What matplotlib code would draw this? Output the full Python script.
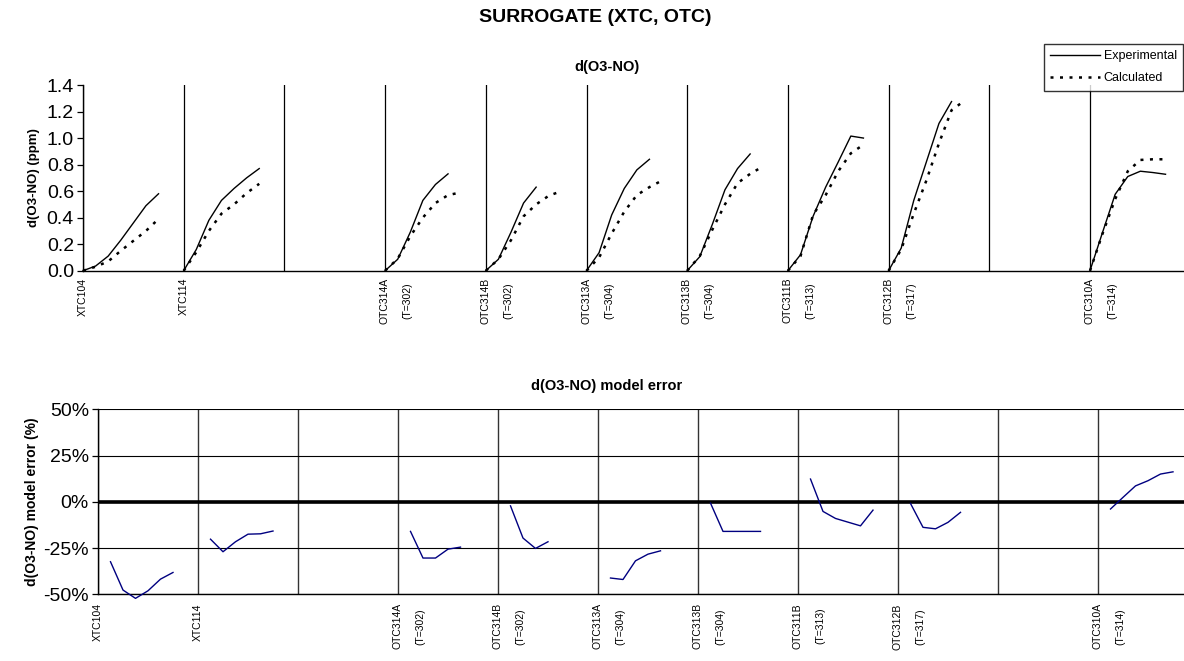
import matplotlib
matplotlib.use("Agg")
import matplotlib.pyplot as plt
import matplotlib.transforms as mtransforms
from matplotlib.ticker import FuncFormatter

plt.rcParams['font.family'] = ['Liberation Sans', 'DejaVu Sans']

# ---- categories (one slot per experiment; empty slots are blank) ----
slot_labels = ['XTC104', 'XTC114', '', 'OTC314A\n(T=302)', 'OTC314B\n(T=302)',
               'OTC313A\n(T=304)', 'OTC313B\n(T=304)', 'OTC311B\n(T=313)',
               'OTC312B\n(T=317)', '', 'OTC310A\n(T=314)']
run_slots = [0, 1, 3, 4, 5, 6, 7, 8, 10]
hours_per_slot = 8.0

# ---- d(O3-NO) experimental (ppm), hourly from t=0 ----
exp_XTC104 = [0.0, 0.035, 0.11, 0.23, 0.36, 0.49, 0.58]
exp_XTC114 = [0.0, 0.16, 0.38, 0.53, 0.62, 0.70, 0.77]
exp_OTC314A = [0.0, 0.086, 0.29, 0.53, 0.65, 0.73]
exp_OTC314B = [0.0, 0.086, 0.29, 0.51, 0.63]
exp_OTC313A = [0.0, 0.136, 0.42, 0.62, 0.76, 0.84]
exp_OTC313B = [0.0, 0.106, 0.35, 0.61, 0.77, 0.88]
exp_OTC311B = [0.0, 0.12, 0.41, 0.63, 0.82, 1.015, 1.00]
exp_OTC312B = [0.0, 0.17, 0.53, 0.82, 1.11, 1.275]
exp_OTC310A = [0.0, 0.29, 0.576, 0.71, 0.75, 0.74, 0.727]

# ---- d(O3-NO) calculated (ppm), hourly from t=0 ----
calc_XTC104 = [0.0, 0.03, 0.07, 0.15, 0.225, 0.30, 0.39]
calc_XTC114 = [0.0, 0.14, 0.30, 0.43, 0.50, 0.585, 0.655]
calc_OTC314A = [0.0, 0.09, 0.26, 0.40, 0.51, 0.57, 0.59]
calc_OTC314B = [0.0, 0.086, 0.23, 0.41, 0.50, 0.565, 0.60]
calc_OTC313A = [0.0, 0.10, 0.28, 0.445, 0.57, 0.63, 0.68]
calc_OTC313B = [0.0, 0.11, 0.31, 0.50, 0.66, 0.73, 0.785]
calc_OTC311B = [0.0, 0.11, 0.42, 0.57, 0.75, 0.885, 0.95]
calc_OTC312B = [0.0, 0.16, 0.43, 0.68, 0.96, 1.21, 1.28]
calc_OTC310A = [0.0, 0.28, 0.54, 0.75, 0.835, 0.84, 0.84]

# ---- model error (%), hourly from t=1 h ----
err_XTC104 = [-32.4, -47.7, -52.2, -48.1, -41.8, -38.2]
err_XTC114 = [-20.2, -27.0, -21.6, -17.5, -17.3, -15.8]
err_OTC314A = [-16.0, -30.4, -30.4, -25.6, -24.5]
err_OTC314B = [-2.2, -19.6, -25.2, -21.6]
err_OTC313A = [-41.2, -42.0, -31.9, -28.3, -26.5]
err_OTC313B = [-0.7, -16.0, -16.0, -16.0, -16.0]
err_OTC311B = [12.3, -5.2, -9.0, -11.0, -13.0, -4.5]
err_OTC312B = [-0.9, -13.8, -14.6, -11.1, -5.7]
err_OTC310A = [-3.9, 2.4, 8.6, 11.4, 15.0, 16.2]

experimental = [exp_XTC104, exp_XTC114, exp_OTC314A, exp_OTC314B, exp_OTC313A,
                exp_OTC313B, exp_OTC311B, exp_OTC312B, exp_OTC310A]
calculated = [calc_XTC104, calc_XTC114, calc_OTC314A, calc_OTC314B, calc_OTC313A,
              calc_OTC313B, calc_OTC311B, calc_OTC312B, calc_OTC310A]
model_error = [err_XTC104, err_XTC114, err_OTC314A, err_OTC314B, err_OTC313A,
               err_OTC313B, err_OTC311B, err_OTC312B, err_OTC310A]

W, H = 1184, 661
fig = plt.figure(figsize=(W / 100, H / 100), dpi=100)


def box(left, top, right, bottom):
    return [left / W, 1 - bottom / H, (right - left) / W, (bottom - top) / H]


n_slots = len(slot_labels)
dotted = (0, (1.2, 2.6))

# ================= top panel =================
ax1 = fig.add_axes(box(83, 85, 83 + 100.7 * n_slots, 270.7))
for i, (slot, ye, yc) in enumerate(zip(run_slots, experimental, calculated)):
    xe = [slot + h / hours_per_slot for h in range(len(ye))]
    xc = [slot + h / hours_per_slot for h in range(len(yc))]
    ax1.plot(xe, ye, color='black', lw=1.0,
             label='Experimental' if i == 0 else '_nolegend_', clip_on=False)
    ax1.plot(xc, yc, color='black', lw=1.8, linestyle=dotted,
             label='Calculated' if i == 0 else '_nolegend_', clip_on=False)
ax1.set_xlim(0, n_slots)
ax1.set_ylim(0, 1.4)
ax1.set_yticks([0.0, 0.2, 0.4, 0.6, 0.8, 1.0, 1.2, 1.4])
ax1.yaxis.set_major_formatter(FuncFormatter(lambda v, p: f"{v:.1f}"))
ax1.set_xticks(range(n_slots))
ax1.set_xticklabels(slot_labels, rotation=90, fontsize=7.5,
                    multialignment='center', linespacing=2.6)
ax1.tick_params(axis='x', length=0, pad=5)
ax1.tick_params(axis='y', length=4.5, width=0.9, labelsize=14, pad=2)
ax1.grid(axis='x', color='black', lw=0.9)
ax1.set_axisbelow(True)
for s in ['top', 'right']:
    ax1.spines[s].set_visible(False)
for s in ['left', 'bottom']:
    ax1.spines[s].set_color('black')
    ax1.spines[s].set_linewidth(1.0)
ax1.set_ylabel('d(O3-NO) (ppm)', fontsize=9.5, fontweight='bold', labelpad=5)

# ================= bottom panel =================
ax2 = fig.add_axes(box(98, 409.3, 98 + 100 * n_slots, 594.3))
for slot, ye in zip(run_slots, model_error):
    xe = [slot + (h + 1) / hours_per_slot for h in range(len(ye))]
    ax2.plot(xe, ye, color='#000080', lw=1.0, clip_on=False, zorder=4)
ax2.axhline(0, color='black', lw=2.6, zorder=3)
ax2.set_xlim(0, n_slots)
ax2.set_ylim(-50, 50)
ax2.set_yticks([-50, -25, 0, 25, 50])
ax2.yaxis.set_major_formatter(FuncFormatter(lambda v, p: f"{v:.0f}%"))
ax2.set_xticks(range(n_slots))
ax2.set_xticklabels(slot_labels, rotation=90, fontsize=7.5,
                    multialignment='center', linespacing=2.6)
ax2.tick_params(axis='x', length=0, pad=6.5)
ax2.tick_params(axis='y', length=4.5, width=0.9, labelsize=14, pad=2)
ax2.grid(axis='x', color='#333333', lw=1.0)
ax2.grid(axis='y', color='black', lw=0.8)
ax2.set_axisbelow(True)
for s in ['top', 'right']:
    ax2.spines[s].set_visible(False)
for s in ['left', 'bottom']:
    ax2.spines[s].set_color('black')
    ax2.spines[s].set_linewidth(1.0)
ax2.set_ylabel('d(O3-NO) model error (%)', fontsize=10, fontweight='bold', labelpad=3)

# shift two-line category labels so first line sits on the tick
shift = mtransforms.ScaledTranslation(11 / 100, 0, fig.dpi_scale_trans)
for ax in (ax1, ax2):
    for lab in ax.get_xticklabels():
        if '\n' in lab.get_text():
            lab.set_transform(lab.get_transform() + shift)

# ================= titles & legend =================
fig.text(595 / W, 1 - 18 / H, 'SURROGATE (XTC, OTC)', ha='center', va='center',
         fontsize=14, fontweight='bold')
fig.text(607 / W, 1 - 67 / H, 'd(O3-NO)', ha='center', va='center',
         fontsize=10.5, fontweight='bold')
fig.text(607 / W, 1 - 386 / H, 'd(O3-NO) model error', ha='center', va='center',
         fontsize=10.5, fontweight='bold')

leg = fig.legend(handles=ax1.get_lines()[:2], labels=['Experimental', 'Calculated'],
                 loc='upper right', bbox_to_anchor=(1183 / W, 1 - 44 / H),
                 fontsize=9, frameon=True, fancybox=False, shadow=False,
                 edgecolor='black', borderaxespad=0, handlelength=4.0,
                 handletextpad=0.3, borderpad=0.5, labelspacing=0.8)
leg.get_frame().set_linewidth(1.0)

fig.savefig('out.png', dpi=100)
